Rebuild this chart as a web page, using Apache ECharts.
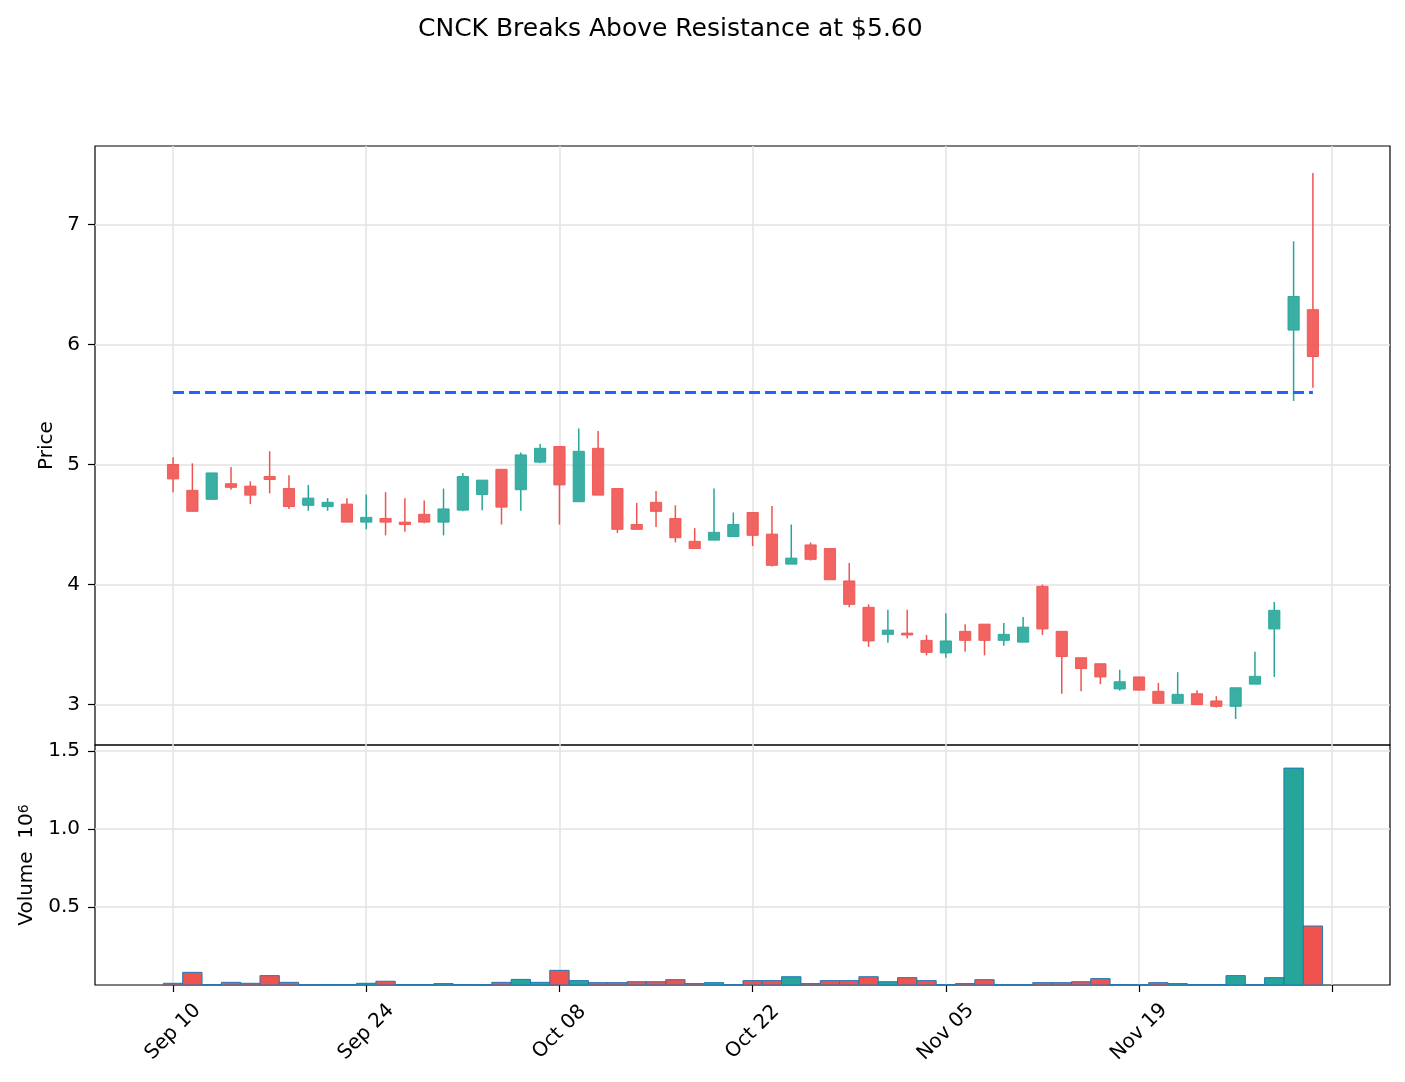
<!DOCTYPE html>
<html>
<head>
<meta charset="utf-8">
<script src="https://cdn.jsdelivr.net/npm/echarts@6.0.0/dist/echarts.min.js"></script>
<style>
  html, body { margin: 0; padding: 0; background: #fff; }
  #chart { width: 1405px; height: 1082px; }
</style>
</head>
<body>
<div id="chart"></div>
<script>
// daily candles, one per trading day starting Sep 10
const opens = [5.00, 4.785, 4.71, 4.84, 4.82, 4.90, 4.80, 4.66, 4.65, 4.67,
  4.52, 4.55, 4.52, 4.585, 4.52, 4.62, 4.75, 4.96, 4.79, 5.02,
  5.15, 4.69, 5.135, 4.80, 4.50, 4.685, 4.55, 4.36, 4.37, 4.40,
  4.60, 4.42, 4.17, 4.33, 4.30, 4.03, 3.81, 3.585, 3.595, 3.535,
  3.43, 3.61, 3.67, 3.535, 3.52, 3.985, 3.61, 3.39, 3.34, 3.13,
  3.23, 3.11, 3.01, 3.09, 3.03, 2.985, 3.17, 3.63, 6.12, 6.29];
const closes = [4.88, 4.61, 4.93, 4.81, 4.745, 4.875, 4.65, 4.72, 4.685, 4.52,
  4.56, 4.52, 4.50, 4.52, 4.63, 4.90, 4.87, 4.645, 5.08, 5.135,
  4.83, 5.11, 4.745, 4.46, 4.46, 4.61, 4.39, 4.30, 4.435, 4.50,
  4.41, 4.16, 4.22, 4.21, 4.04, 3.835, 3.53, 3.62, 3.58, 3.435,
  3.53, 3.535, 3.535, 3.585, 3.645, 3.63, 3.40, 3.30, 3.23, 3.19,
  3.12, 3.01, 3.085, 3.00, 2.985, 3.14, 3.235, 3.785, 6.40, 5.90];
const lows = [4.77, 4.61, 4.71, 4.79, 4.67, 4.76, 4.63, 4.615, 4.615, 4.52,
  4.46, 4.41, 4.44, 4.51, 4.41, 4.61, 4.62, 4.50, 4.615, 5.01,
  4.50, 4.69, 4.745, 4.43, 4.46, 4.48, 4.35, 4.30, 4.37, 4.40,
  4.32, 4.15, 4.17, 4.20, 4.04, 3.81, 3.48, 3.515, 3.55, 3.41,
  3.39, 3.44, 3.41, 3.49, 3.52, 3.58, 3.09, 3.11, 3.17, 3.115,
  3.12, 3.01, 3.01, 3.00, 2.975, 2.88, 3.17, 3.23, 5.53, 5.64];
const highs = [5.06, 5.01, 4.93, 4.98, 4.86, 5.11, 4.91, 4.83, 4.72, 4.72,
  4.75, 4.77, 4.72, 4.70, 4.80, 4.93, 4.87, 4.96, 5.10, 5.17,
  5.15, 5.30, 5.28, 4.80, 4.68, 4.78, 4.66, 4.47, 4.80, 4.60,
  4.60, 4.655, 4.50, 4.35, 4.30, 4.18, 3.835, 3.79, 3.79, 3.58,
  3.76, 3.67, 3.67, 3.68, 3.73, 4.00, 3.61, 3.39, 3.34, 3.29,
  3.23, 3.18, 3.27, 3.12, 3.07, 3.14, 3.44, 3.855, 6.86, 7.43];
const volumes = [11000, 81000, 3000, 17000, 11000, 60000, 17000, 1000, 3000, 3000,
  11000, 24000, 3000, 3000, 9000, 3000, 1000, 17000, 36000, 17000,
  94000, 28000, 15000, 15000, 21000, 21000, 34000, 9000, 15000, 1000,
  28000, 28000, 53000, 9000, 28000, 28000, 53000, 21000, 47000, 28000,
  1000, 9000, 34000, 1000, 1000, 15000, 15000, 21000, 41000, 3000,
  1000, 15000, 9000, 3000, 3000, 60000, 1000, 47000, 1390000, 378000];

const tickIdx = [0, 10, 20, 30, 40, 50, 60];
const tickLabels = ['Sep 10', 'Sep 24', 'Oct 08', 'Oct 22', 'Nov 05', 'Nov 19', ''];
const priceTicks = [3, 4, 5, 6, 7];
const volTicks = [0.5, 1.0, 1.5];
const resistance = 5.6;

const UP = '#26a69a';
const DOWN = '#ef5350';
const GRID = '#e3e3e3';
const FONT = 'DejaVu Sans';

const candleData = opens.map((o, i) => [i, o, closes[i], lows[i], highs[i]]);
const volData = volumes.map((v, i) => [i, v / 1e6, closes[i] >= opens[i] ? 1 : 0]);

const chart = echarts.init(document.getElementById('chart'));

const xBase = {
  type: 'value',
  min: -4.04,
  max: 62.99,
  axisLine: { show: false, onZero: false },
  splitLine: { show: true, lineStyle: { color: GRID, width: 1.5 } },
};

chart.setOption({
  animation: false,
  backgroundColor: '#fff',
  textStyle: { fontFamily: FONT },
  title: {
    text: 'CNCK Breaks Above Resistance at $5.60',
    left: 418,
    top: 17,
    padding: 0,
    textStyle: { fontFamily: FONT, fontSize: 25, fontWeight: 'normal', color: '#000' },
  },
  grid: [
    { left: 95, right: 15, top: 146, height: 599, show: true, borderColor: '#000', borderWidth: 1.2, backgroundColor: 'transparent' },
    { left: 95, right: 15, top: 745, height: 240, show: true, borderColor: '#000', borderWidth: 1.2, backgroundColor: 'transparent' },
  ],
  xAxis: [
    {
      ...xBase,
      gridIndex: 0,
      axisTick: { show: false, customValues: tickIdx },
      axisLabel: { show: false },
    },
    {
      ...xBase,
      gridIndex: 1,
      axisTick: { show: true, customValues: tickIdx, length: 7, lineStyle: { color: '#000', width: 1.2 } },
      axisLabel: {
        customValues: tickIdx,
        formatter: (v) => tickLabels[tickIdx.indexOf(Math.round(v))] || '',
        rotate: 45,
        align: 'center',
        verticalAlign: 'middle',
        margin: 47,
        fontSize: 20,
        color: '#000',
        fontFamily: FONT,
      },
    },
  ],
  yAxis: [
    {
      type: 'value',
      gridIndex: 0,
      min: 2.663,
      max: 7.654,
      axisLine: { show: false, onZero: false },
      axisTick: { show: true, customValues: priceTicks, length: 7, lineStyle: { color: '#000', width: 1.2 } },
      axisLabel: { customValues: priceTicks, fontSize: 20, color: '#000', margin: 15, fontFamily: FONT },
      splitLine: { show: true, lineStyle: { color: GRID, width: 1.5 } },
      name: 'Price',
      nameLocation: 'middle',
      nameRotate: 90,
      nameGap: 38,
      nameTextStyle: { fontSize: 20, color: '#000', fontFamily: FONT },
    },
    {
      type: 'value',
      gridIndex: 1,
      min: 0,
      max: 1.538,
      axisLine: { show: false, onZero: false },
      axisTick: { show: true, customValues: volTicks, length: 7, lineStyle: { color: '#000', width: 1.2 } },
      axisLabel: {
        customValues: volTicks,
        formatter: (v) => v.toFixed(1),
        fontSize: 20,
        color: '#000',
        margin: 15,
        fontFamily: FONT,
      },
      splitLine: { show: true, lineStyle: { color: GRID, width: 1.5 } },
      name: 'Volume  10{sup|6}',
      nameLocation: 'middle',
      nameRotate: 90,
      nameGap: 58,
      nameTextStyle: {
        fontSize: 20,
        color: '#000',
        fontFamily: FONT,
        rich: { sup: { fontSize: 14, verticalAlign: 'top', color: '#000', fontFamily: FONT } },
      },
    },
  ],
  series: [
    {
      type: 'custom',
      xAxisIndex: 0,
      yAxisIndex: 0,
      data: candleData,
      encode: { x: 0, y: [1, 2, 3, 4] },
      renderItem: (params, api) => {
        const i = api.value(0);
        const o = api.value(1);
        const c = api.value(2);
        const color = c >= o ? UP : DOWN;
        const top = api.coord([i, Math.max(o, c)]);
        const bot = api.coord([i, Math.min(o, c)]);
        const hi = api.coord([i, api.value(4)]);
        const lo = api.coord([i, api.value(3)]);
        const w = api.size([0.58, 0])[0];
        return {
          type: 'group',
          children: [
            { type: 'line', shape: { x1: hi[0], y1: hi[1], x2: top[0], y2: top[1] }, style: { stroke: color, lineWidth: 1.5 } },
            { type: 'line', shape: { x1: bot[0], y1: bot[1], x2: lo[0], y2: lo[1] }, style: { stroke: color, lineWidth: 1.5 } },
            {
              type: 'rect',
              shape: { x: top[0] - w / 2, y: top[1], width: w, height: Math.max(bot[1] - top[1], 1) },
              style: { fill: color, stroke: color, lineWidth: 1, opacity: 0.9 },
            },
          ],
        };
      },
    },
    {
      type: 'line',
      xAxisIndex: 0,
      yAxisIndex: 0,
      data: [[0, resistance], [opens.length - 1, resistance]],
      symbol: 'none',
      lineStyle: { color: '#2563ff', width: 3, type: [11, 5] },
      z: 3,
    },
    {
      type: 'custom',
      xAxisIndex: 1,
      yAxisIndex: 1,
      data: volData,
      encode: { x: 0, y: 1 },
      renderItem: (params, api) => {
        const i = api.value(0);
        const v = api.value(1);
        const p0 = api.coord([i - 0.5, v]);
        const p1 = api.coord([i + 0.5, 0]);
        return {
          type: 'rect',
          shape: { x: p0[0], y: p0[1], width: p1[0] - p0[0], height: p1[1] - p0[1] },
          style: { fill: api.value(2) ? UP : DOWN, stroke: '#1f77b4', lineWidth: 1 },
        };
      },
    },
  ],
});
</script>
</body>
</html>
